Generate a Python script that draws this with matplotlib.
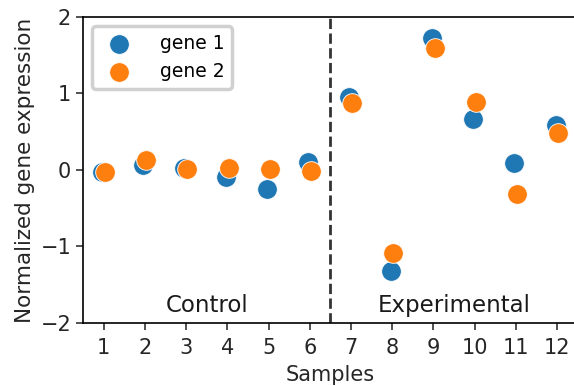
import numpy as np
import matplotlib
matplotlib.use("Agg")
from matplotlib import pyplot as plt

samples = [1, 2, 3, 4, 5, 6, 7, 8, 9, 10, 11, 12]
gene1 = [-0.03, 0.07, 0.02, -0.09, -0.25, 0.10, 0.95, -1.32, 1.73, 0.67, 0.09, 0.59]
gene2 = [-0.03, 0.13, 0.01, 0.02, 0.01, -0.01, 0.88, -1.09, 1.60, 0.89, -0.31, 0.49]
group_names = ['Control', 'Experimental']
group_centers = [3.5, 9.5]

fig = plt.figure(figsize=(5.74, 3.86), dpi=100)
ax = fig.add_axes([0.1446, 0.1632, 0.8620, 0.7928])

x = np.array(samples)
ax.scatter(x - 0.04, gene1, s=200, color='#1f77b4', edgecolors='white', linewidths=0.6,
           label='gene 1', zorder=3)
ax.scatter(x + 0.03, gene2, s=200, color='#ff7f0e', edgecolors='white', linewidths=0.6,
           label='gene 2', zorder=3)

ax.axvline(6.5, color='#333333', linestyle='--', linewidth=2)

for name, cx in zip(group_names, group_centers):
    ax.text(cx, -1.77, name, ha='center', va='center', fontsize=16.5, color='#1a1a1a')

ax.set_xlim(0.5, 12.5)
ax.set_ylim(-2, 2)
ax.set_xticks(samples)
ax.set_yticks([-2, -1, 0, 1, 2])
ax.tick_params(labelsize=15, length=5, width=1.2, color='#333333', labelcolor='#262626')
ax.tick_params(axis='x', pad=6)
ax.spines['right'].set_visible(False)
for sp in ['left', 'bottom', 'top']:
    ax.spines[sp].set_linewidth(1.2)
ax.set_xlabel('Samples', fontsize=15, labelpad=5, color='#262626')
ax.set_ylabel('Normalized gene expression', fontsize=15.5, labelpad=4, color='#262626')

leg = ax.legend(loc='upper left', fontsize=13.5, handletextpad=1.2, borderpad=0.4,
                fancybox=True, framealpha=1)
leg.get_frame().set_edgecolor('#d0d0d0')
leg.get_frame().set_linewidth(2.5)

fig.savefig('out.png', dpi=100)
